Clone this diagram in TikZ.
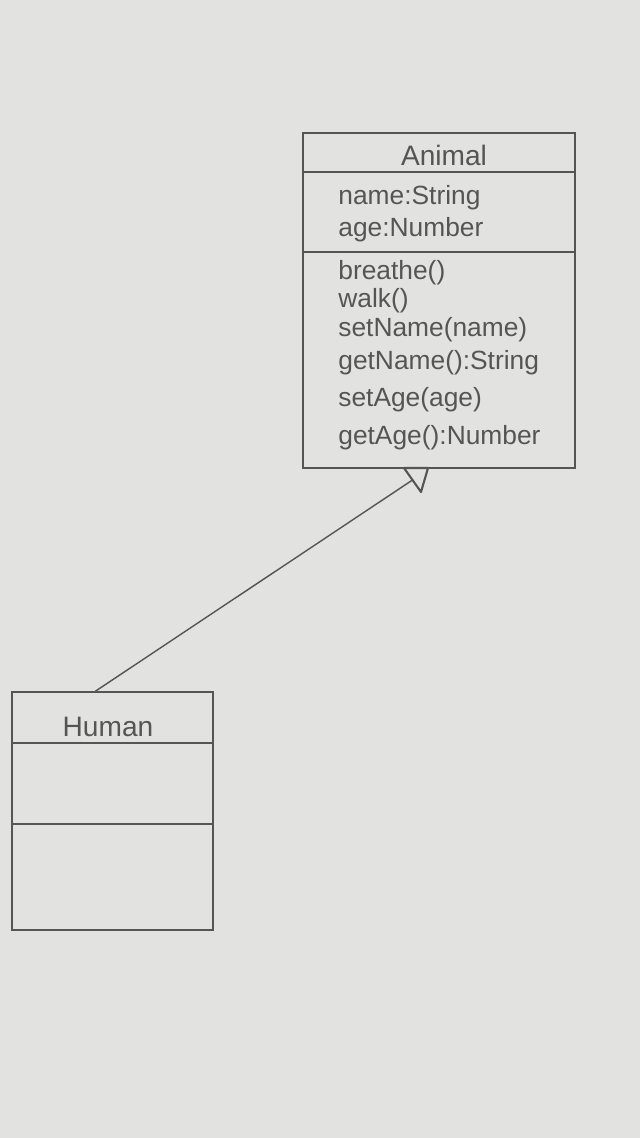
\documentclass[tikz,border=0pt]{standalone}
\usepackage{fontspec}
\setmainfont{Liberation Sans}
\definecolor{paper}{RGB}{226,226,224}
\definecolor{pencil}{RGB}{85,85,85}
\tikzset{
  classbox/.style={draw=pencil,line width=1pt,inner sep=0pt},
  member/.style={anchor=west,inner sep=0pt,text=pencil,font=\fontsize{15}{15}\selectfont},
  title/.style={inner sep=0pt,text=pencil,font=\fontsize{16}{16}\selectfont},
  sepline/.style={draw=pencil,line width=1pt}
}
\begin{document}
\begin{tikzpicture}[x=0.02cm,y=-0.02cm]
        %% Paper
        \fill[paper] (0,0) rectangle (640,1138);
        \useasboundingbox (0,0) rectangle (640,1138);
        %% Animal
        \node[classbox,minimum width=5.44cm,minimum height=6.7cm] (animal) at (439,300.5) {};
        \node[title] (animalname) at (444,155) {Animal};
        \draw[sepline] (animal.west |- 0,172) -- (animal.east |- 0,172);
        \node[member] (aname) at (338,198) {name:String};
        \node[member] (aage) at (338,230) {age:Number};
        \draw[sepline] (animal.west |- 0,252) -- (animal.east |- 0,252);
        \node[member] (breathe) at (338,273) {breathe()};
        \node[member] (walk) at (338,301) {walk()};
        \node[member] (setname) at (338,330) {setName(name)};
        \node[member] (getname) at (338,363) {getName():String};
        \node[member] (setage) at (338,400) {setAge(age)};
        \node[member] (getage) at (338,438) {getAge():Number};
        %% Human
        \node[classbox,minimum width=4.02cm,minimum height=4.76cm] (human) at (112.5,811) {};
        \node[title] (humanname) at (108,727) {Human};
        \draw[sepline] (human.west |- 0,743) -- (human.east |- 0,743);
        \draw[sepline] (human.west |- 0,824) -- (human.east |- 0,824);
        %% Generalization
        \coordinate (hook) at ([xshift=-0.34cm]human.north);
        \coordinate (tl) at (404,468);
        \coordinate (tr) at (428,468);
        \coordinate (tb) at (421,492);
        \coordinate (tip) at (412.5,480);
        \draw[pencil,line width=0.8pt] (hook) -- (tip);
        \draw[pencil,line width=1.2pt,line join=round] (tl) -- (tr) -- (tb) -- cycle;
\end{tikzpicture}
\end{document}
